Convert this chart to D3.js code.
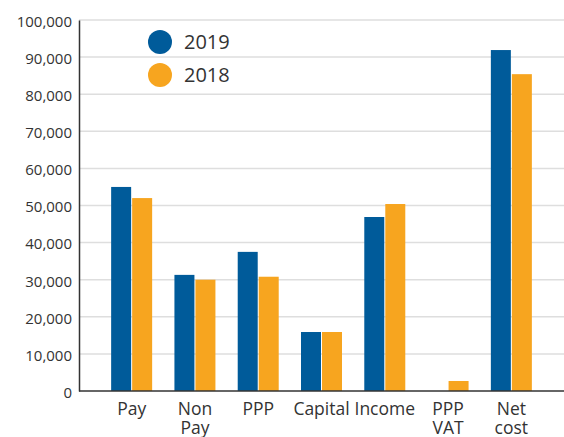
<!DOCTYPE html>
<html>
<head>
<meta charset="utf-8">
<script src="https://cdn.jsdelivr.net/npm/d3@7"></script>
<style>
  body { margin: 0; background: #fff; }
  text { font-family: "Open Sans", sans-serif; fill: #333; }
</style>
</head>
<body>
<div id="chart"></div>
<script>
var categories = [["Pay"], ["Non", "Pay"], ["PPP"], ["Capital"], ["Income"], ["PPP", "VAT"], ["Net", "cost"]];
var series = ["2019", "2018"];
var values2019 = [55000, 31300, 37500, 15900, 46900, 0, 91900];
var values2018 = [52000, 30000, 30800, 15900, 50400, 2700, 85400];
var yTicks = [0, 10000, 20000, 30000, 40000, 50000, 60000, 70000, 80000, 90000, 100000];
var colors = ["#005b9a", "#f7a51f"];

var w = 564, h = 437;
var mLeft = 79, mTop = 20, mBottom = 391;

var svg = d3.select("#chart").append("svg")
  .attr("width", w)
  .attr("height", h);

var y = d3.scaleLinear().domain([0, 100000]).range([mBottom, mTop]);
var keys = categories.map(function(c) { return c.join(" "); });
var x = d3.scaleBand().domain(keys).range([100, 543]).paddingInner(0).paddingOuter(0);
var barW = 20;

// gridlines
svg.selectAll("line.grid")
  .data(yTicks.slice(1))
  .enter().append("line")
  .attr("class", "grid")
  .attr("x1", mLeft).attr("x2", w)
  .attr("y1", function(d) { return y(d); })
  .attr("y2", function(d) { return y(d); })
  .attr("stroke", "#dedede")
  .attr("stroke-width", 1.5);

// y axis
var yAxis = d3.axisLeft(y).tickValues(yTicks).tickSize(0).tickPadding(7)
  .tickFormat(d3.format(","));
var gy = svg.append("g").attr("transform", "translate(" + mLeft + ",0)").call(yAxis);
gy.select(".domain").attr("stroke", "#333").attr("stroke-width", 1.5);
gy.selectAll("text").attr("font-size", 15).attr("fill", "#333").attr("font-family", "Open Sans").attr("dy", "0.42em");

// bars
var groups = svg.selectAll("g.cat")
  .data(keys)
  .enter().append("g")
  .attr("class", "cat")
  .attr("transform", function(d) { return "translate(" + (x(d) + x.bandwidth() / 2) + ",0)"; });

groups.append("rect")
  .attr("x", -barW - 0.5)
  .attr("width", barW)
  .attr("y", function(d, i) { return y(values2019[i]); })
  .attr("height", function(d, i) { return mBottom - y(values2019[i]); })
  .attr("fill", colors[0]);

groups.append("rect")
  .attr("x", 0.5)
  .attr("width", barW)
  .attr("y", function(d, i) { return y(values2018[i]); })
  .attr("height", function(d, i) { return mBottom - y(values2018[i]); })
  .attr("fill", colors[1]);

// baseline
svg.append("line")
  .attr("x1", mLeft).attr("x2", w)
  .attr("y1", mBottom).attr("y2", mBottom)
  .attr("stroke", "#333").attr("stroke-width", 1.5);

// x labels
groups.each(function(d, i) {
  var t = d3.select(this).append("text")
    .attr("text-anchor", "middle")
    .attr("font-size", 17.5)
    .attr("y", 415);
  categories[i].forEach(function(line, j) {
    t.append("tspan").attr("x", 0).attr("dy", j === 0 ? 0 : 19).text(line);
  });
});

// legend
var legend = svg.selectAll("g.legend")
  .data(series)
  .enter().append("g")
  .attr("class", "legend")
  .attr("transform", function(d, i) { return "translate(160," + (42 + i * 33) + ")"; });
legend.append("circle").attr("r", 12).attr("fill", function(d, i) { return colors[i]; });
legend.append("text").attr("x", 24).attr("y", 7).attr("font-size", 20).text(function(d) { return d; });
</script>
</body>
</html>
